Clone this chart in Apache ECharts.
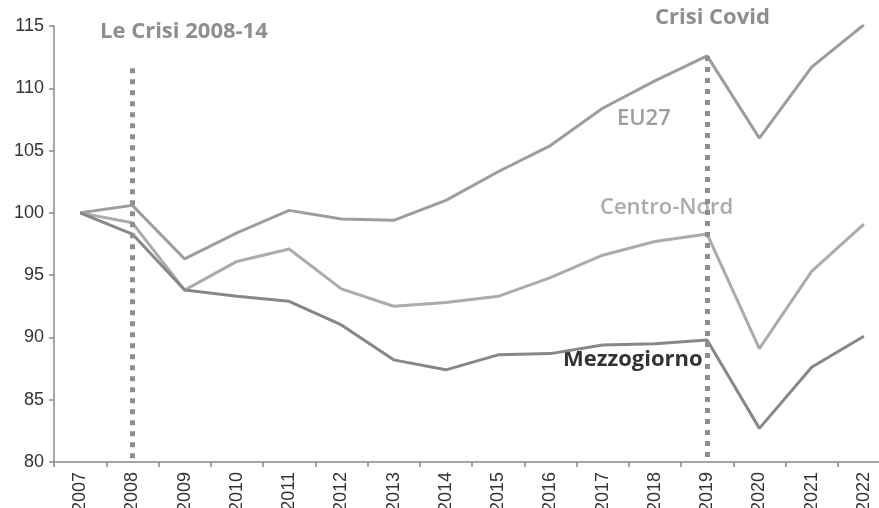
<!DOCTYPE html>
<html>
<head>
<meta charset="utf-8">
<script src="https://cdn.jsdelivr.net/npm/echarts@6/dist/echarts.min.js"></script>
<style>
  html, body { margin: 0; padding: 0; background: #fff; }
  #chart { width: 879px; height: 508px; }
</style>
</head>
<body>
<div id="chart"></div>
<script>
// anni e serie (indice 2007 = 100)
const years = ['2007','2008','2009','2010','2011','2012','2013','2014','2015','2016','2017','2018','2019','2020','2021','2022'];
const eu27 = [100, 100.6, 96.3, 98.4, 100.2, 99.5, 99.4, 101.0, 103.3, 105.4, 108.4, 110.6, 112.6, 106.0, 111.7, 115.1];
const centroNord = [100, 99.2, 93.8, 96.1, 97.1, 93.9, 92.5, 92.8, 93.3, 94.8, 96.6, 97.7, 98.3, 89.1, 95.3, 99.1];
const mezzogiorno = [100, 98.3, 93.8, 93.3, 92.9, 91.0, 88.2, 87.4, 88.6, 88.7, 89.4, 89.5, 89.8, 82.7, 87.6, 90.1];
// linee tratteggiate delle crisi: [anno, da, a]
const crisisLines = [['2008', 111.6, 80], ['2019', 112.6, 80]];

const chart = echarts.init(document.getElementById('chart'));

const labelFont = '"Open Sans", sans-serif';

function lineSeries(name, data, color, z) {
  return {
    name: name,
    type: 'line',
    data: data,
    symbol: 'none',
    z: z,
    lineStyle: { color: color, width: 3 },
    animation: false
  };
}

const series = [
  lineSeries('EU27', eu27, '#9d9d9d', 3),
  lineSeries('Centro-Nord', centroNord, '#ababab', 3),
  lineSeries('Mezzogiorno', mezzogiorno, '#878787', 4)
];

series.push({
  type: 'line',
  data: [],
  z: 5,
  markLine: {
    silent: true,
    symbol: ['none', 'none'],
    label: { show: false },
    lineStyle: { type: [5, 6], color: '#8e8e8e', width: 5, cap: 'butt' },
    data: crisisLines.map(c => [{ coord: [c[0], c[1]] }, { coord: [c[0], c[2]] }])
  },
  animation: false
});

chart.setOption({
  backgroundColor: '#fff',
  animation: false,
  grid: { left: 54, width: 836, top: 26, height: 436, containLabel: false, outerBoundsMode: 'none' },
  xAxis: {
    type: 'category',
    data: years,
    boundaryGap: true,
    axisLine: { lineStyle: { color: '#888', width: 1.5 } },
    axisTick: { show: true, length: 5, inside: false, lineStyle: { color: '#888', width: 1.5 } },
    axisLabel: { rotate: 90, margin: 10, color: '#333', fontFamily: 'Liberation Sans', fontSize: 18, interval: 0 }
  },
  yAxis: {
    type: 'value',
    min: 80,
    max: 115,
    interval: 5,
    splitLine: { show: false },
    axisLine: { show: true, lineStyle: { color: '#888', width: 1.5 } },
    axisTick: { show: true, length: 5, lineStyle: { color: '#888', width: 1.5 } },
    axisLabel: { color: '#333', fontFamily: 'Liberation Sans', fontSize: 18, margin: 10 }
  },
  graphic: [
    { type: 'text', left: 100, top: 21, style: { text: 'Le Crisi 2008-14', font: 'bold 22px ' + labelFont, fill: '#8e8e8e' } },
    { type: 'text', left: 655, top: 7, style: { text: 'Crisi Covid', font: 'bold 22px ' + labelFont, fill: '#8e8e8e' } },
    { type: 'text', left: 617, top: 108, style: { text: 'EU27', font: '600 22px ' + labelFont, fill: '#9d9d9d' } },
    { type: 'text', left: 600, top: 197, style: { text: 'Centro-Nord', font: '600 22px ' + labelFont, fill: '#ababab' } },
    { type: 'text', left: 563, top: 349, style: { text: 'Mezzogiorno', font: 'bold 22px ' + labelFont, fill: '#333' } }
  ],
  series: series
});
</script>
</body>
</html>
